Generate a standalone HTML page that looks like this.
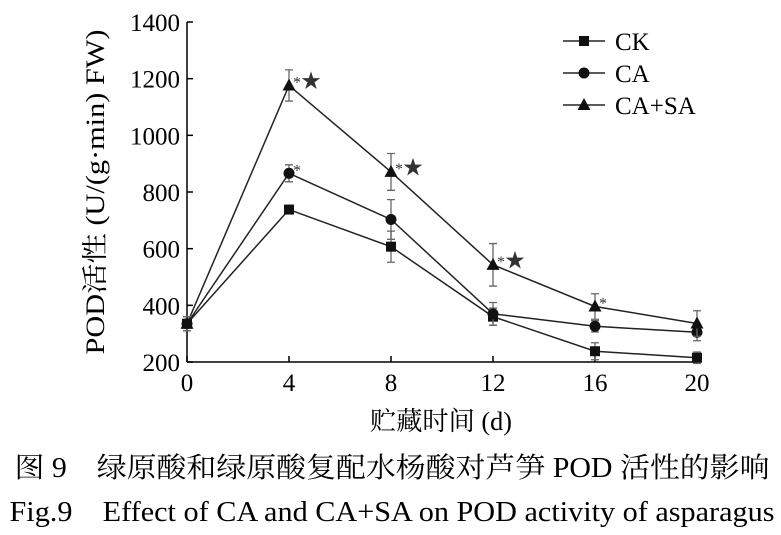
<!DOCTYPE html>
<html><head><meta charset="utf-8">
<style>
html,body{margin:0;padding:0;background:#fff;}
svg{display:block;font-family:"Liberation Serif","Noto Serif CJK SC",serif;}
</style></head>
<body>
<svg id="chart" width="781" height="535" viewBox="0 0 781 535">
<g id="axes"></g>
<g id="series"></g>
<g id="legend"></g>
<text x="441" y="430" font-size="26" text-anchor="middle" textLength="142" lengthAdjust="spacingAndGlyphs">贮藏时间 (d)</text>
<text transform="translate(104,192) rotate(-90)" font-size="26" text-anchor="middle" textLength="325" lengthAdjust="spacingAndGlyphs">POD活性 (U/(g·min) FW)</text>
<text x="392" y="477" font-size="28" text-anchor="middle" textLength="755" lengthAdjust="spacingAndGlyphs">图 9　绿原酸和绿原酸复配水杨酸对芦笋 POD 活性的影响</text>
<text x="392" y="521" font-size="28" text-anchor="middle" textLength="765" lengthAdjust="spacingAndGlyphs">Fig.9　Effect of CA and CA+SA on POD activity of asparagus</text>
</svg>
<script>
const days=[0,4,8,12,16,20];
const xTicks=[0,4,8,12,16,20];
const yTicks=[200,400,600,800,1000,1200,1400];
const ckVals=[335,738,607,360,238,215];
const ckErr=[25,15,55,30,30,20];
const caVals=[335,866,703,370,326,305];
const caErr=[25,30,70,40,20,30];
const sasVals=[335,1176,871,543,396,336];
const sasErr=[25,55,65,75,45,45];
const marks=[[4,1176,"*★"],[8,871,"*★"],[12,543,"*★"],[16,396,"*"],[4,866,"*"]];
const NS="http://www.w3.org/2000/svg";
const X0=187,X1=697,Y0=362,Y1=22;
const xs=v=>X0+(v-0)/(20-0)*(X1-X0);
const ys=v=>Y0-(v-200)/(1400-200)*(Y0-Y1);
function mk(t,a,p){const e=document.createElementNS(NS,t);for(const k in a)e.setAttribute(k,a[k]);p.appendChild(e);return e;}
const ax=document.getElementById('axes');
let e=mk('line',{x1:X0,y1:Y0,x2:X1,y2:Y0,stroke:'#000','stroke-width':1.5},ax);

e=mk('line',{x1:X0,y1:Y0,x2:X0,y2:Y1,stroke:'#000','stroke-width':1.5},ax);

xTicks.forEach(t=>{mk('line',{x1:xs(t),y1:Y0,x2:xs(t),y2:Y0-6,stroke:'#000','stroke-width':1.5},ax);
 const tx=mk('text',{x:xs(t),y:Y0+29,'font-size':25,'text-anchor':'middle'},ax);tx.textContent=t;
 });
yTicks.forEach(t=>{mk('line',{x1:X0,y1:ys(t),x2:X0+6,y2:ys(t),stroke:'#000','stroke-width':1.5},ax);
 const tx=mk('text',{x:X0-7,y:ys(t)+9,'font-size':25,'text-anchor':'end'},ax);tx.textContent=t;
 });
const sg=document.getElementById('series');
function marker(type,x,y,p){
 if(type==='sq')return mk('rect',{x:x-5,y:y-5,width:10,height:10,fill:'#111'},p);
 if(type==='ci')return mk('circle',{cx:x,cy:y,r:5.5,fill:'#111'},p);
 return mk('polygon',{points:`${x},${y-7} ${x-6.5},${y+5} ${x+6.5},${y+5}`,fill:'#111'},p);
}
function series(vals,err,type,name){
 const g=mk('g',{},sg);
 const l=mk('polyline',{points:days.map((d,i)=>xs(d)+','+ys(vals[i])).join(' '),fill:'none',stroke:'#222','stroke-width':1.5},g);
 
 days.forEach((d,i)=>{const x=xs(d),a=ys(vals[i]+err[i]),b=ys(vals[i]-err[i]);
  const eb=mk('path',{d:`M${x},${a}V${b}M${x-4},${a}H${x+4}M${x-4},${b}H${x+4}`,stroke:'#666','stroke-width':1.3,fill:'none'},g);
  
  const m=marker(type,x,ys(vals[i]),g);
  });
}
series(ckVals,ckErr,'sq','ck');
series(caVals,caErr,'ci','ca');
series(sasVals,sasErr,'tr','ca-sa');
marks.forEach(([d,v,s])=>{const t=mk('text',{x:xs(d)+4,y:ys(v)+2,'font-size':16,fill:'#333'},sg);
 t.innerHTML=s.replace('★','<tspan font-size="20">★</tspan>');
 });
const lg=document.getElementById('legend');
[['sq','CK',41],['ci','CA',73],['tr','CA+SA',105]].forEach(([t,n,y])=>{
 const g=mk('g',{},lg);
 mk('line',{x1:563,y1:y,x2:605,y2:y,stroke:'#222','stroke-width':1.5},g);
 marker(t,584,y,g);
 const tx=mk('text',{x:615,y:y+9,'font-size':25},g);tx.textContent=n;});
</script>
</body></html>
